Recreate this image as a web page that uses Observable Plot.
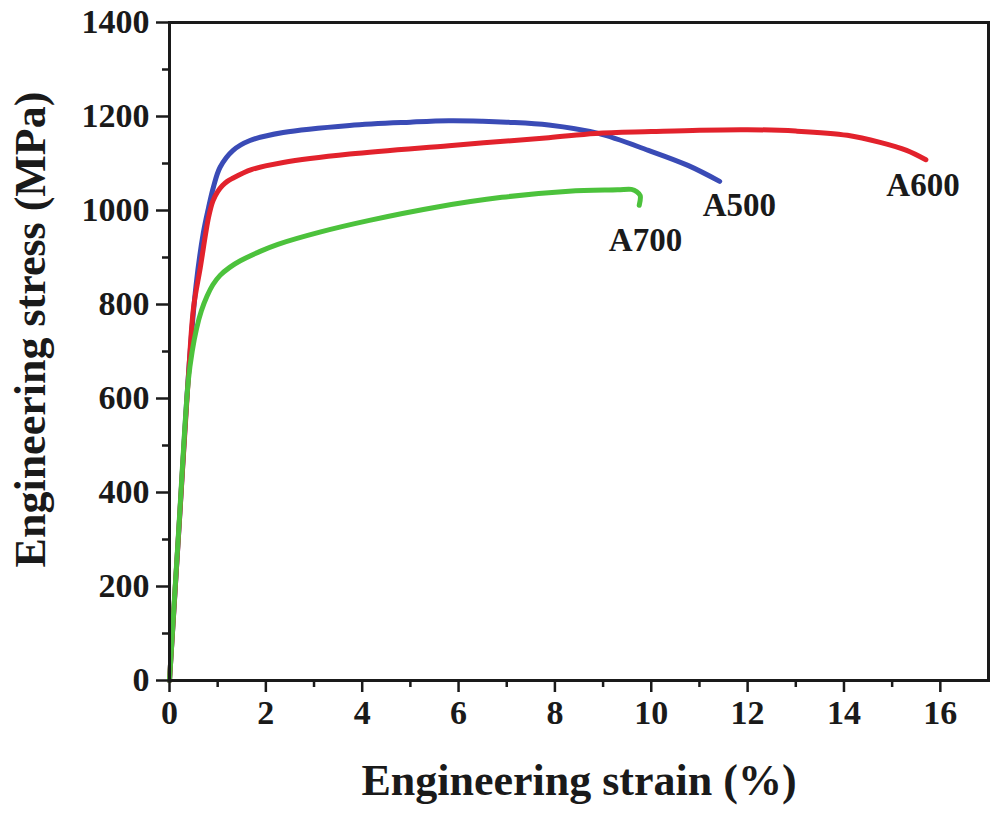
<!DOCTYPE html>
<html>
<head>
<meta charset="utf-8">
<script src="https://cdn.jsdelivr.net/npm/d3@7"></script>
<script src="https://cdn.jsdelivr.net/npm/@observablehq/plot@0.6"></script>
<style>
  html, body { margin: 0; padding: 0; background: #fff; }
</style>
</head>
<body>
<div id="chart"></div>
<script>
// Engineering strain (%) and stress (MPa)
const a500Strain = [0, 0.2, 0.4, 0.55, 0.7, 0.81, 0.91, 1.05, 1.32, 1.67, 2.36, 3.74, 5.0, 5.8, 6.5, 7.0, 7.87, 8.9, 9.94, 10.76, 11.42];
const a500Stress = [0, 330, 660, 840, 951, 1006, 1049, 1092, 1128, 1149, 1166, 1181, 1188, 1191, 1190, 1188, 1182, 1164, 1128, 1096, 1062];

const a600Strain = [0, 0.2, 0.4, 0.5, 0.64, 0.81, 0.9, 1.0, 1.1, 1.2, 1.3, 1.7, 2.36, 3.74, 5.8, 7.87, 8.84, 10, 11, 12, 13, 14.07, 14.75, 15.3, 15.7];
const a600Stress = [0, 330, 660, 794, 879, 985, 1020, 1040, 1053, 1062, 1068, 1087, 1102, 1120, 1138, 1155, 1164, 1168, 1171, 1172, 1169, 1160, 1145, 1128, 1108];

const a700Strain = [0, 0.19, 0.39, 0.47, 0.56, 0.66, 0.78, 0.9, 1.05, 1.25, 1.47, 1.88, 2.25, 3.12, 4.15, 5.53, 6.9, 8.29, 9.3, 9.59, 9.7, 9.77, 9.75];
const a700Stress = [0, 319, 638, 700, 748, 786, 818, 842, 862, 879, 893, 913, 928, 954, 979, 1007, 1028, 1041, 1044, 1045, 1040, 1032, 1011];

const seriesNames = ["A500", "A600", "A700"];
const seriesColors = ["#3a4bb6", "#e2222c", "#4cc23c"];

const labelNames = ["A500", "A600", "A700"];
const labelStrain = [11.83, 15.64, 9.88];
const labelStress = [1011, 1053, 936];

const xMajor = [0, 2, 4, 6, 8, 10, 12, 14, 16];
const xMinor = [1, 3, 5, 7, 9, 11, 13, 15];
const yMajor = [0, 200, 400, 600, 800, 1000, 1200, 1400];
const yMinor = [100, 300, 500, 700, 900, 1100, 1300];

const xTitle = "Engineering strain (%)";
const yTitle = "Engineering stress (MPa)";

const toRows = (name, xs, ys) => xs.map((x, i) => ({series: name, strain: x, stress: ys[i]}));
const rows = [
  ...toRows("A500", a500Strain, a500Stress),
  ...toRows("A600", a600Strain, a600Stress),
  ...toRows("A700", a700Strain, a700Stress)
];
const labels = labelNames.map((n, i) => ({name: n, strain: labelStrain[i], stress: labelStress[i]}));

const font = "'Liberation Serif', 'Times New Roman', serif";

const chart = Plot.plot({
  width: 1000,
  height: 814,
  marginLeft: 169,
  marginRight: 12,
  marginTop: 22,
  marginBottom: 134,
  style: {fontFamily: font, fontWeight: "bold", color: "#1a1a1a", background: "#fff"},
  x: {domain: [0, 17]},
  y: {domain: [0, 1400]},
  color: {domain: seriesNames, range: seriesColors},
  marks: [
    Plot.line(rows, {x: "strain", y: "stress", z: "series", stroke: "series", strokeWidth: 5, curve: "catmull-rom", strokeLinecap: "round", strokeLinejoin: "round"}),
    Plot.frame({stroke: "#1a1a1a", strokeWidth: 3}),
    Plot.axisX(xMajor, {tickSize: 12, tickPadding: 7, strokeWidth: 2.5, fontSize: 34, fontWeight: "bold", label: null, tickFormat: d => String(d)}),
    Plot.axisX(xMinor, {tickSize: 7, strokeWidth: 2.5, label: null, tickFormat: () => ""}),
    Plot.axisY(yMajor, {tickSize: 13, tickPadding: 7, strokeWidth: 2.5, fontSize: 34, fontWeight: "bold", label: null, tickFormat: d => String(d)}),
    Plot.axisY(yMinor, {tickSize: 7, strokeWidth: 2.5, label: null, tickFormat: () => ""}),
    Plot.text(labels, {x: "strain", y: "stress", text: "name", fontSize: 33, fontWeight: "bold", fill: "#1a1a1a"}),
    Plot.text([xTitle], {frameAnchor: "bottom", textAnchor: "middle", lineAnchor: "middle", dy: 100, text: d => d, fontSize: 44, fontWeight: "bold", fill: "#1a1a1a"}),
    Plot.text([yTitle], {frameAnchor: "left", textAnchor: "middle", lineAnchor: "middle", dx: -139, dy: -22, rotate: -90, text: d => d, fontSize: 44, fontWeight: "bold", fill: "#1a1a1a"})
  ]
});
document.getElementById("chart").appendChild(chart);
</script>
</body>
</html>
